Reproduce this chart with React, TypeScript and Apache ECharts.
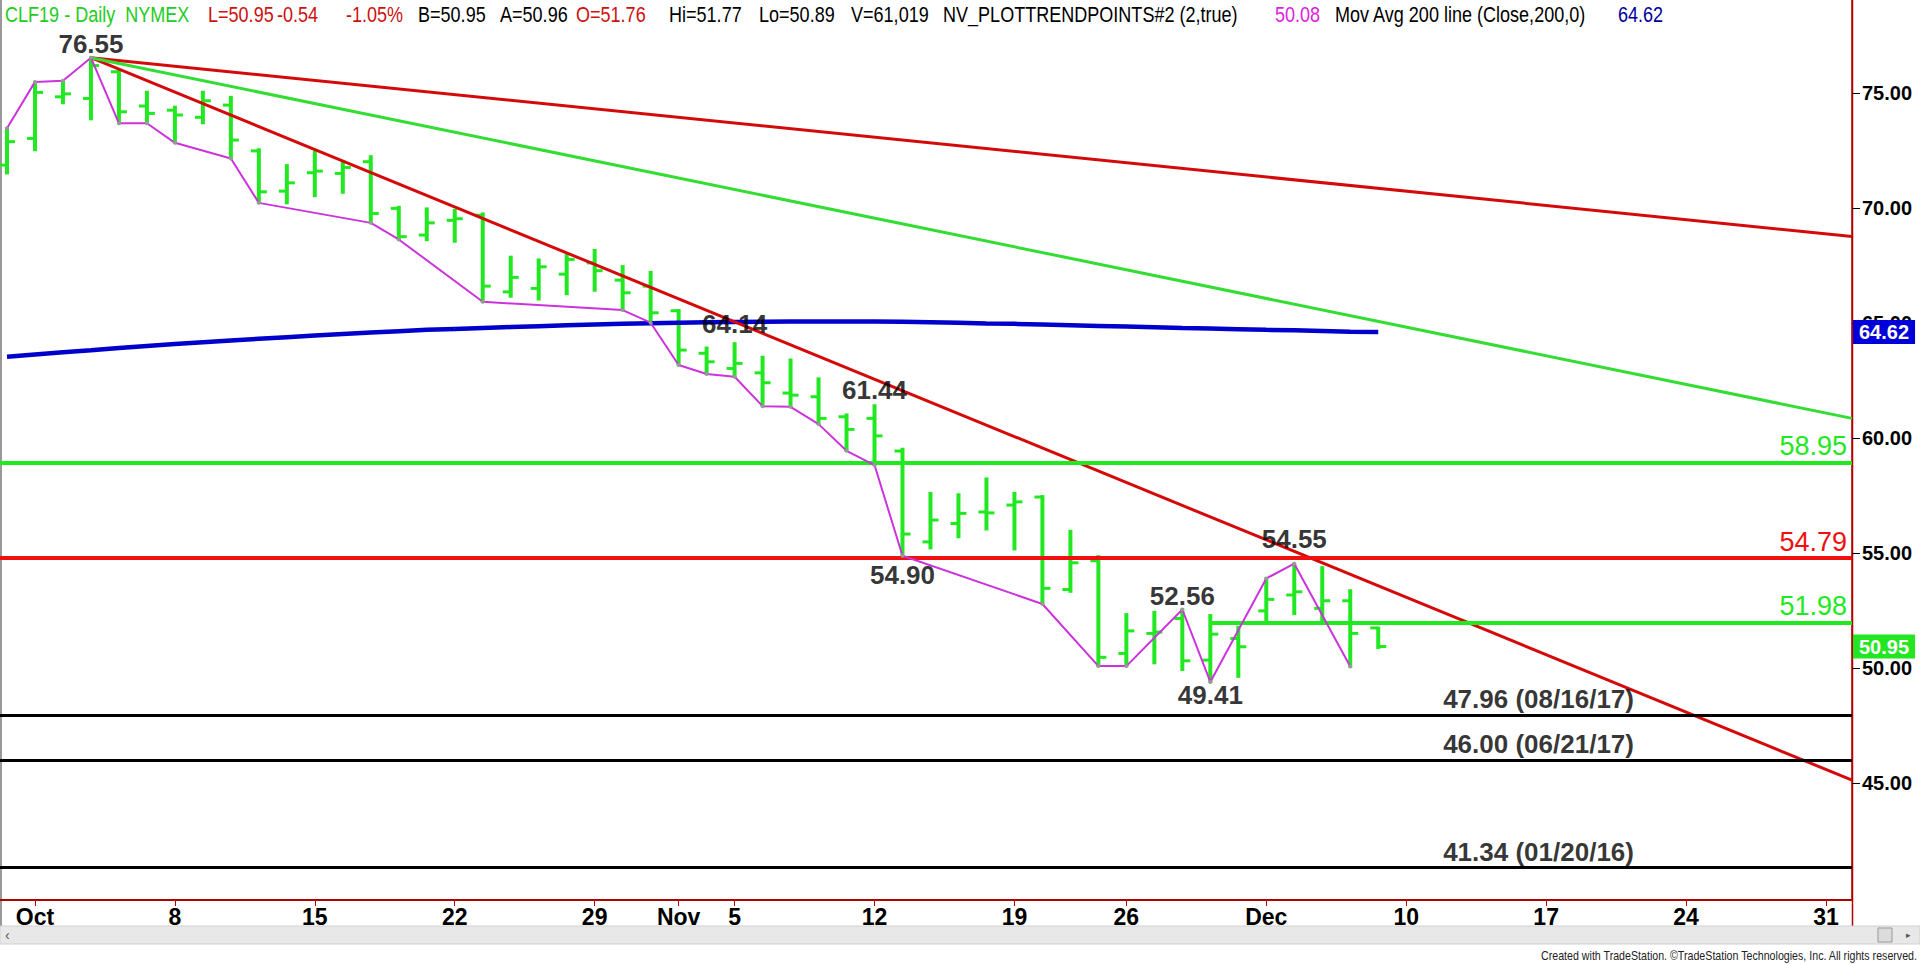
import { useEffect, useRef } from "react";
import * as echarts from "echarts";

// ---------------- DATA ----------------
const barDates = [
  "2018-09-28", "2018-10-01", "2018-10-02", "2018-10-03", "2018-10-04", "2018-10-05",
  "2018-10-08", "2018-10-09", "2018-10-10", "2018-10-11", "2018-10-12",
  "2018-10-15", "2018-10-16", "2018-10-17", "2018-10-18", "2018-10-19",
  "2018-10-22", "2018-10-23", "2018-10-24", "2018-10-25", "2018-10-26",
  "2018-10-29", "2018-10-30", "2018-10-31", "2018-11-01", "2018-11-02",
  "2018-11-05", "2018-11-06", "2018-11-07", "2018-11-08", "2018-11-09",
  "2018-11-12", "2018-11-13", "2018-11-14", "2018-11-15", "2018-11-16",
  "2018-11-19", "2018-11-20", "2018-11-21", "2018-11-23",
  "2018-11-26", "2018-11-27", "2018-11-28", "2018-11-29", "2018-11-30",
  "2018-12-03", "2018-12-04", "2018-12-05", "2018-12-06", "2018-12-07",
];
const futureDates = [
  "2018-12-10", "2018-12-11", "2018-12-12", "2018-12-13", "2018-12-14",
  "2018-12-17", "2018-12-18", "2018-12-19", "2018-12-20", "2018-12-21",
  "2018-12-24", "2018-12-25", "2018-12-26", "2018-12-27", "2018-12-28",
  "2018-12-31",
];
const opens = [
  71.88, 73.04, 74.85, 74.78, 75.94, 74.45, 74.27, 73.96, 74.49, 72.5, 70.75,
  71.55, 71.52, 72.03, 70.0, 68.84, 69.48, 69.7, 66.37, 66.52, 67.14,
  67.63, 66.88, 66.62, 65.55, 63.7, 63.04, 62.85, 61.97, 61.81, 60.94,
  60.87, 59.45, 55.5, 56.3, 56.8, 57.1, 57.45, 53.43, 54.68,
  50.65, 51.52, 52.17, 50.36, 51.3, 52.5, 53.19, 52.61, 52.94, 51.76,
];
const highs = [
  73.48, 75.5, 75.55, 76.55, 76.01, 75.07, 74.42, 75.07, 74.85, 72.57, 71.88,
  72.46, 72.03, 72.27, 70.07, 70.0, 69.93, 69.78, 67.9, 67.78, 67.97,
  68.19, 67.49, 67.24, 65.58, 63.95, 64.14, 63.55, 63.43, 62.61, 61.04,
  61.44, 59.55, 57.63, 57.57, 58.26, 57.63, 57.49, 55.98, 54.88,
  52.36, 52.46, 52.56, 52.32, 51.81, 53.91, 54.55, 54.4, 53.4, 51.77,
];
const lows = [
  71.52, 72.53, 74.57, 73.87, 73.7, 73.7, 72.85, 73.7, 72.17, 70.24, 70.22,
  70.53, 70.68, 69.37, 68.65, 68.62, 68.55, 65.94, 66.16, 66.04, 66.27,
  66.42, 65.58, 65.03, 63.19, 62.8, 62.68, 61.4, 61.37, 60.62, 59.46,
  58.84, 54.9, 55.22, 55.7, 56.04, 55.17, 52.8, 53.33, 50.1,
  50.1, 50.22, 49.93, 49.41, 49.63, 52.07, 52.36, 52.1, 50.08, 50.89,
];
const closes = [
  72.9, 75.04, 74.98, 76.21, 74.2, 74.13, 74.06, 74.68, 72.97, 70.72, 71.11,
  71.62, 71.78, 69.78, 68.77, 69.37, 69.55, 66.62, 67.0, 67.46, 67.78,
  67.29, 66.33, 65.46, 63.84, 63.33, 63.26, 62.42, 61.88, 60.87, 60.39,
  60.11, 55.84, 56.45, 56.74, 56.76, 57.24, 53.48, 54.59, 50.48,
  51.63, 51.58, 50.33, 51.49, 50.94, 53.0, 53.33, 52.94, 51.52, 50.95,
];
const ma200 = [
  63.55, 63.65, 63.74, 63.83, 63.93, 64.02, 64.1, 64.18, 64.26, 64.33, 64.4,
  64.47, 64.54, 64.6, 64.66, 64.72, 64.76, 64.8, 64.84, 64.88, 64.92,
  64.95, 64.98, 65.01, 65.03, 65.05, 65.06, 65.07, 65.08, 65.08, 65.08,
  65.08, 65.07, 65.05, 65.03, 65.0, 64.98, 64.95, 64.92, 64.89,
  64.86, 64.83, 64.8, 64.78, 64.75, 64.72, 64.7, 64.67, 64.64, 64.62,
];
// trend points (magenta)
const pivotDates = [
  "2018-09-28", "2018-10-01", "2018-10-02", "2018-10-03", "2018-10-04", "2018-10-05",
  "2018-10-08", "2018-10-10", "2018-10-11", "2018-10-17", "2018-10-18", "2018-10-23",
  "2018-10-30", "2018-10-31", "2018-11-01", "2018-11-02", "2018-11-05", "2018-11-06",
  "2018-11-07", "2018-11-08", "2018-11-09", "2018-11-12", "2018-11-13", "2018-11-20",
  "2018-11-23", "2018-11-26", "2018-11-28", "2018-11-29", "2018-12-03", "2018-12-04",
  "2018-12-06",
];
const pivotValues = [
  73.48, 75.5, 75.55, 76.55, 73.7, 73.7, 72.85, 72.17, 70.24, 69.37, 68.65, 65.94,
  65.58, 65.03, 63.19, 62.8, 62.68, 61.4, 61.37, 60.62, 59.46, 58.84, 54.9, 52.8,
  50.1, 50.1, 52.56, 49.41, 53.91, 54.55, 50.08,
];
// swing labels
const swingDates = ["2018-10-03", "2018-11-05", "2018-11-12", "2018-11-13", "2018-11-28", "2018-11-29", "2018-12-04"];
const swingValues = [76.55, 64.14, 61.44, 54.9, 52.56, 49.41, 54.55];
const swingSides = ["high", "high", "high", "low", "high", "low", "high"];
// trend lines from the 76.55 top to the right edge
const trendStartDate = "2018-10-03";
const trendStartValue = 76.55;
const trendEndValues = [45.14, 68.78, 60.87]; // steep red, shallow red, green
// horizontal levels
const levelValues = [58.95, 54.79, 51.98, 47.96, 46.0, 41.34];
const levelStartDates = ["", "", "2018-11-29", "", "", ""];
const levelNotes = ["", "", "", "47.96 (08/16/17)", "46.00 (06/21/17)", "41.34 (01/20/16)"];
// price tags on the axis
const maLast = 64.62;
const lastClose = 50.95;
// x-axis ticks
const tickDates = [
  "2018-10-01", "2018-10-08", "2018-10-15", "2018-10-22", "2018-10-29", "2018-11-01",
  "2018-11-05", "2018-11-12", "2018-11-19", "2018-11-26", "2018-12-03", "2018-12-10",
  "2018-12-17", "2018-12-24", "2018-12-31",
];
const tickLabels = ["Oct", "8", "15", "22", "29", "Nov", "5", "12", "19", "26", "Dec", "10", "17", "24", "31"];
const yTicks = [45, 50, 55, 60, 65, 70, 75];
// header
const headerTexts = [
  "CLF19 - Daily  NYMEX", "L=50.95", "-0.54", "-1.05%", "B=50.95", "A=50.96", "O=51.76",
  "Hi=51.77", "Lo=50.89", "V=61,019", "NV_PLOTTRENDPOINTS#2 (2,true)", "50.08",
  "Mov Avg 200 line (Close,200,0)", "64.62",
];

// ---------------- STYLE ----------------
const GREEN = "#22e822";
const RED = "#d40a0a";
const BRIGHT_RED = "#f01010";
const BLUE = "#0000cc";
const MAGENTA = "#cc33dd";
const FONT = "'Liberation Sans', Arial, sans-serif";
const headerX = [5, 208, 277, 346, 418, 500, 576, 669, 759, 851, 943, 1275, 1335, 1618];
const headerColors = [
  "#22cc22", "#cc1111", "#cc1111", "#cc1111", "#000", "#000", "#cc1111",
  "#000", "#000", "#000", "#000", "#dd22dd", "#000", "#000099",
];
const levelColors = [GREEN, BRIGHT_RED, GREEN, "#000", "#000", "#000"];
const levelWidths = [4, 4, 4, 3, 3, 3];
const trendColors = [RED, RED, "#33dd33"];
const swingDistance: Record<string, number> = {
  "76.55": 1, "64.14": 6, "61.44": 2, "54.90": 6, "52.56": 1, "49.41": 0, "54.55": 12,
};

const axisDates = [...barDates, ...futureDates];
const idx = (d: string) => axisDates.indexOf(d);
const X_MIN = -0.25;
const X_MAX = idx("2018-12-31") + 0.93;
const Y_MIN = 39.93;
const Y_MAX = 79.06;

export default function App() {
  const ref = useRef<HTMLDivElement>(null);
  useEffect(() => {
    document.body.style.margin = "0";
    document.body.style.overflow = "hidden";
    const chart = echarts.init(ref.current!, null, { renderer: "svg", width: 1920, height: 964 });

    const tickIdx = tickDates.map(idx);

    const levelMarks: any[] = [];
    levelValues.forEach((v, k) => {
      const lineStyle = { color: levelColors[k], width: levelWidths[k], type: "solid" };
      const showLabel = levelNotes[k] === "";
      const label = {
        show: showLabel,
        position: "insideEndTop",
        formatter: v.toFixed(2),
        color: levelColors[k],
        fontSize: 27,
        fontFamily: FONT,
        distance: [5, 3],
      };
      if (levelStartDates[k]) {
        levelMarks.push([
          { coord: [idx(levelStartDates[k]), v], lineStyle, label },
          { coord: [X_MAX, v] },
        ]);
      } else {
        levelMarks.push({ yAxis: v, lineStyle, label });
      }
    });
    const tag = (v: number, bg: string) => ({
      yAxis: v,
      lineStyle: { color: "rgba(0,0,0,0)", width: 1, type: "solid" },
      label: {
        show: true,
        position: "end",
        distance: 1,
        formatter: v.toFixed(2),
        backgroundColor: bg,
        color: "#fff",
        fontSize: 20,
        fontWeight: "bold",
        fontFamily: FONT,
        padding: [2, 6, 1, 6],
        lineHeight: 21,
      },
    });
    levelMarks.push(tag(maLast, "#0000d8"));
    levelMarks.push(tag(lastClose, "#22e622"));

    const option: any = {
      animation: false,
      backgroundColor: "#fff",
      grid: { left: 0, right: 68, top: 0, bottom: 64, containLabel: false },
      xAxis: {
        type: "value",
        min: X_MIN,
        max: X_MAX,
        axisLine: { show: true, onZero: false, lineStyle: { color: "#b00000", width: 2 } },
        axisTick: { show: true, customValues: tickIdx, length: 6, lineStyle: { color: "#b00000", width: 1 } },
        axisLabel: {
          customValues: tickIdx,
          formatter: (v: number) => tickLabels[tickIdx.indexOf(Math.round(v))] ?? "",
          color: "#000",
          fontFamily: FONT,
          fontWeight: "bold",
          fontSize: 23,
          margin: 5,
        },
        splitLine: { show: false },
      },
      yAxis: {
        type: "value",
        position: "right",
        min: Y_MIN,
        max: Y_MAX,
        axisLine: { show: true, onZero: false, lineStyle: { color: "#b00000", width: 1.5 } },
        axisTick: { show: true, customValues: yTicks, length: 8, lineStyle: { color: "#000" } },
        axisLabel: {
          customValues: yTicks,
          formatter: (v: number) => v.toFixed(2),
          color: "#000",
          fontFamily: FONT,
          fontWeight: "bold",
          fontSize: 20,
          margin: 10,
        },
        splitLine: { show: false },
      },
      graphic: [
        ...headerTexts.map((t, k) => ({
          type: "text",
          x: headerX[k],
          y: 14,
          scaleX: 0.82,
          silent: true,
          style: {
            text: t,
            fill: headerColors[k],
            fontSize: 22,
            fontFamily: FONT,
            verticalAlign: "middle",
          },
        })),
        { type: "line", silent: true, shape: { x1: 1, y1: 0, x2: 1, y2: 926 }, style: { stroke: "#999", lineWidth: 2 } },
        { type: "line", silent: true, shape: { x1: 1852.5, y1: 0, x2: 1852.5, y2: 926 }, style: { stroke: "#b00000", lineWidth: 1.5 } },
        { type: "rect", silent: true, shape: { x: 0, y: 926, width: 1920, height: 18 }, style: { fill: "#e8e8e8", stroke: "#d0d0d0" } },
        { type: "text", silent: true, x: 5, y: 935, style: { text: "\u2039", fill: "#555", fontSize: 14, fontFamily: FONT, verticalAlign: "middle" } },
        { type: "rect", silent: true, shape: { x: 1878, y: 928, width: 14, height: 14 }, style: { fill: "#dcdcdc", stroke: "#999" } },
        { type: "text", silent: true, x: 1906, y: 935, style: { text: "\u25B8", fill: "#555", fontSize: 9, fontFamily: FONT, verticalAlign: "middle" } },
        {
          type: "text", silent: true, x: 1917, y: 956, scaleX: 0.82,
          style: {
            text: "Created with TradeStation. \u00A9TradeStation Technologies, Inc. All rights reserved.",
            fill: "#222", fontSize: 13, fontFamily: FONT, align: "right", verticalAlign: "middle",
          },
        },
      ],
      series: [
        {
          type: "custom",
          name: "CLF19",
          z: 2,
          data: barDates.map((d, i) => [idx(d), opens[i], highs[i], lows[i], closes[i]]),
          encode: { x: 0, y: [1, 2, 3, 4] },
          renderItem: (params: any, api: any) => {
            const i = api.value(0);
            const o = api.coord([i, api.value(1)]);
            const h = api.coord([i, api.value(2)]);
            const l = api.coord([i, api.value(3)]);
            const c = api.coord([i, api.value(4)]);
            const x = h[0];
            const st = { stroke: GREEN, lineWidth: 4 };
            return {
              type: "group",
              children: [
                { type: "line", shape: { x1: x, y1: h[1] - 1, x2: x, y2: l[1] + 1 }, style: st },
                { type: "line", shape: { x1: x - 8, y1: o[1], x2: x, y2: o[1] }, style: { stroke: GREEN, lineWidth: 3 } },
                { type: "line", shape: { x1: x, y1: c[1], x2: x + 8, y2: c[1] }, style: { stroke: GREEN, lineWidth: 3 } },
              ],
            };
          },
        },
        {
          type: "line",
          name: "Mov Avg 200",
          z: 3,
          data: barDates.map((d, i) => [idx(d), ma200[i]]),
          showSymbol: false,
          symbol: "none",
          lineStyle: { color: BLUE, width: 4.5 },
          markLine: { silent: true, symbol: ["none", "none"], data: levelMarks },
        },
        ...trendEndValues.map((ev, k) => ({
          type: "line",
          name: "trend" + k,
          z: 4,
          symbol: "none",
          data: [
            [idx(trendStartDate), trendStartValue],
            [X_MAX, ev],
          ],
          lineStyle: { color: trendColors[k], width: 3 },
        })),
        {
          type: "line",
          name: "trend points",
          z: 5,
          data: pivotDates.map((d, k) => [idx(d), pivotValues[k]]),
          symbol: "circle",
          symbolSize: 4,
          showSymbol: true,
          itemStyle: { color: "#999" },
          lineStyle: { color: MAGENTA, width: 2 },
        },
        {
          type: "scatter",
          name: "swing labels",
          z: 7,
          symbolSize: 0,
          data: swingDates.map((d, k) => {
            const txt = swingValues[k].toFixed(2);
            return {
              value: [idx(d), swingValues[k]],
              label: {
                show: true,
                position: swingSides[k] === "high" ? "top" : "bottom",
                distance: swingDistance[txt] ?? 2,
                formatter: txt,
                color: "#000",
                fontSize: 26,
                fontWeight: "bold",
                fontFamily: FONT,
              },
            };
          }),
        },
        {
          type: "scatter",
          name: "level notes",
          z: 7,
          symbolSize: 0,
          data: levelValues
            .map((v, k) => ({ v, k }))
            .filter((o) => levelNotes[o.k] !== "")
            .map((o) => ({
              value: [idx("2018-12-11") + 0.32, o.v],
              label: {
                show: true,
                position: [0, -3],
                align: "left",
                verticalAlign: "bottom",
                formatter: levelNotes[o.k],
                color: "#000",
                fontSize: 26,
                fontWeight: "bold",
                fontFamily: FONT,
              },
            })),
        },
      ],
    };
    chart.setOption(option);
    return () => chart.dispose();
  }, []);
  return (
    <div
      ref={ref}
      style={{ width: 1920, height: 964, position: "absolute", left: 0, top: 0, background: "#fff" }}
    />
  );
}
